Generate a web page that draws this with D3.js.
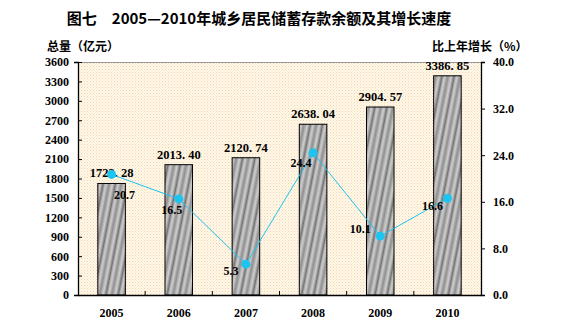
<!DOCTYPE html>
<html>
<head>
<meta charset="utf-8">
<script src="https://cdn.jsdelivr.net/npm/d3@7"></script>
<style>
  html, body { margin: 0; padding: 0; background: #fff; }
  svg { display: block; }
  .num { font-family: "Liberation Serif", "Times New Roman", serif; font-weight: bold; fill: #000; }
  .cjk { font-family: "Noto Sans CJK SC", sans-serif; font-weight: bold; fill: #000; }
</style>
</head>
<body>
<svg id="chart" width="562" height="328"></svg>
<script>
// Savings deposit balance (100 million yuan) and year-on-year growth (%)
const years = ["2005", "2006", "2007", "2008", "2009", "2010"];
const balance = [1723.28, 2013.40, 2120.74, 2638.04, 2904.57, 3386.85];
const growth = [20.7, 16.5, 5.3, 24.4, 10.1, 16.6];
const leftTicks = [0, 300, 600, 900, 1200, 1500, 1800, 2100, 2400, 2700, 3000, 3300, 3600];
const rightTicks = [0, 8, 16, 24, 32, 40];

// placement of each growth label relative to its point
const growthLabelOffset = [[13, 25], [-7, 15], [-15, 11], [-12, 14], [-20, -3], [-15, 12]];

const svg = d3.select("#chart");
const plot = { left: 78, right: 481, top: 62, bottom: 295 };

const x = d3.scaleBand().domain(years).range([plot.left, plot.right]).paddingInner(0).paddingOuter(0);
const yL = d3.scaleLinear().domain([0, 3600]).range([plot.bottom, plot.top]);
const yR = d3.scaleLinear().domain([0, 40]).range([plot.bottom, plot.top]);

const defs = svg.append("defs");

// dotted cream background
const bg = defs.append("pattern").attr("id", "bgDots")
  .attr("width", 3).attr("height", 3).attr("patternUnits", "userSpaceOnUse");
bg.append("rect").attr("width", 3).attr("height", 3).attr("fill", "#fff8e4");
bg.append("rect").attr("x", 0).attr("y", 0).attr("width", 1).attr("height", 1).attr("fill", "#f2d0c0");
bg.append("rect").attr("x", 1.5).attr("y", 1.5).attr("width", 1).attr("height", 1).attr("fill", "#f6e0c8");

// slanted grey streak fill for the bars
const grad = defs.append("linearGradient").attr("id", "streak")
  .attr("x1", 0).attr("x2", 1).attr("y1", 0).attr("y2", 0);
[[0, "#b4b4b4"], [0.12, "#cfcfcf"], [0.26, "#a4a4a4"], [0.36, "#6a6a6a"], [0.44, "#9c9c9c"],
 [0.58, "#d2d2d2"], [0.72, "#b0b0b0"], [0.84, "#8a8a8a"], [1, "#b4b4b4"]].forEach(([o, c]) =>
  grad.append("stop").attr("offset", o).attr("stop-color", c));
const pat = defs.append("pattern").attr("id", "barFill")
  .attr("width", 12).attr("height", 40).attr("patternUnits", "userSpaceOnUse")
  .attr("patternTransform", "rotate(11)");
pat.append("rect").attr("width", 12).attr("height", 40).attr("fill", "url(#streak)");

// plot area
svg.append("rect")
  .attr("x", plot.left).attr("y", plot.top)
  .attr("width", plot.right - plot.left).attr("height", plot.bottom - plot.top)
  .attr("fill", "url(#bgDots)");
svg.append("line")
  .attr("x1", plot.left).attr("x2", plot.right).attr("y1", plot.top + 0.5).attr("y2", plot.top + 0.5)
  .attr("stroke", "#999").attr("stroke-width", 1);

// bars
const barW = x.bandwidth() * 0.41;
svg.append("g").selectAll("rect").data(balance).join("rect")
  .attr("x", (d, i) => x(years[i]) + (x.bandwidth() - barW) / 2)
  .attr("y", d => yL(d))
  .attr("width", barW)
  .attr("height", d => yL(0) - yL(d))
  .attr("fill", "url(#barFill)")
  .attr("stroke", "#000").attr("stroke-width", 1);

// axes
const axL = svg.append("g").attr("transform", `translate(${plot.left},0)`)
  .call(d3.axisLeft(yL).tickValues(leftTicks).tickSize(4).tickPadding(8).tickFormat(d3.format("d")));
const axR = svg.append("g").attr("transform", `translate(${plot.right},0)`)
  .call(d3.axisRight(yR).tickValues(rightTicks).tickSize(4).tickPadding(8).tickFormat(d3.format(".1f")));
const axB = svg.append("g").attr("transform", `translate(0,${plot.bottom})`)
  .call(d3.axisBottom(x).tickSize(0).tickPadding(13));
[axL, axR, axB].forEach(g => {
  g.select(".domain").attr("stroke", "#000").attr("stroke-width", 1.3);
  g.selectAll(".tick line").attr("stroke", "#000");
  g.selectAll("text").attr("class", "num").style("font-size", "12px");
});
axL.selectAll(".tick line").attr("x2", 4);
axR.selectAll(".tick line").attr("x2", 4);
axR.selectAll(".tick text").attr("x", 12);
axL.selectAll(".tick text").attr("x", -9);
// category boundary ticks on the baseline
svg.append("g").selectAll("line").data(years.slice(1)).join("line")
  .attr("x1", d => x(d)).attr("x2", d => x(d))
  .attr("y1", plot.bottom).attr("y2", plot.bottom - 4)
  .attr("stroke", "#000");

// bar value labels
const fmtBal = d => d3.format(".2f")(d).replace(".", ". ");
svg.append("g").selectAll("text").data(balance).join("text")
  .attr("class", "num").style("font-size", "12.5px")
  .attr("x", (d, i) => x(years[i]) + x.bandwidth() / 2)
  .attr("y", d => yL(d) - 6)
  .attr("text-anchor", "middle")
  .text(fmtBal);

// growth line
const cx = (d, i) => x(years[i]) + x.bandwidth() / 2;
svg.append("path").datum(growth)
  .attr("fill", "none").attr("stroke", "#1ec4f0").attr("stroke-width", 1)
  .attr("d", d3.line().x(cx).y(d => yR(d)));
svg.append("g").selectAll("circle").data(growth).join("circle")
  .attr("cx", cx).attr("cy", d => yR(d)).attr("r", 4.5)
  .attr("fill", "#1ec4f0");
svg.append("g").selectAll("text").data(growth).join("text")
  .attr("class", "num").style("font-size", "12px")
  .attr("x", (d, i) => cx(d, i) + growthLabelOffset[i][0])
  .attr("y", (d, i) => yR(d) + growthLabelOffset[i][1])
  .attr("text-anchor", "middle")
  .text(d => d3.format(".1f")(d));

// titles
svg.append("text").attr("class", "cjk").style("font-size", "15px")
  .attr("x", 259).attr("y", 24).attr("text-anchor", "middle")
  .text("图七　2005—2010年城乡居民储蓄存款余额及其增长速度");
svg.append("text").attr("class", "cjk").style("font-size", "12px")
  .attr("x", 47).attr("y", 51).text("总量（亿元）");
svg.append("text").attr("class", "cjk").style("font-size", "12px")
  .attr("x", 432).attr("y", 51).text("比上年增长（%）");
</script>
</body>
</html>
